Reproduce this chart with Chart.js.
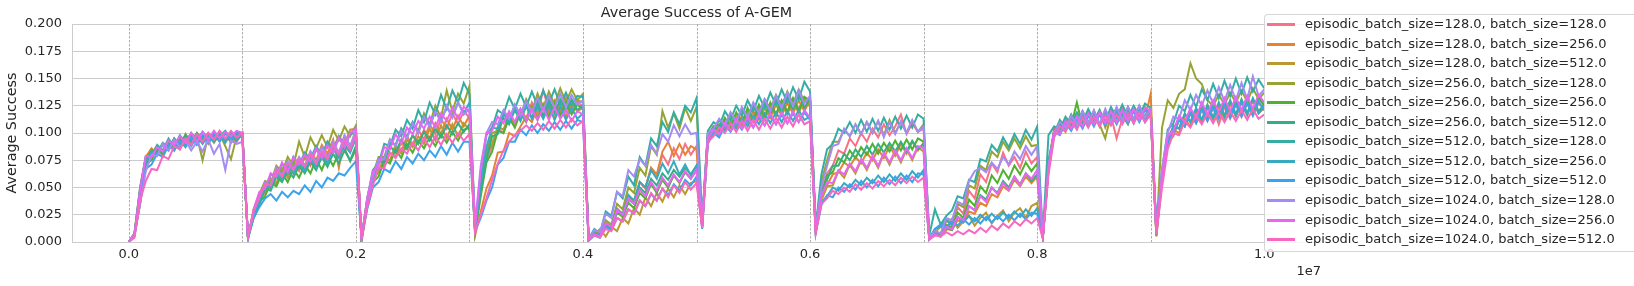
<!DOCTYPE html>
<html>
<head>
<meta charset="utf-8">
<script src="https://cdn.jsdelivr.net/npm/chart.js@4.4.1/dist/chart.umd.min.js"></script>
<style>
    html, body { margin: 0; padding: 0; background: #fff; overflow: hidden; }
    #wrap { position: relative; width: 1634px; height: 286px; }
    #chart { position: absolute; left: 0; top: 0; }
    #legend {
        position: absolute; left: 1264px; top: 14px; width: 420px; height: 238px;
        background: rgba(255, 255, 255, 0.8); border: 1px solid rgba(204, 204, 204, 0.8);
        border-radius: 4px; box-sizing: border-box;
        font-family: "DejaVu Sans"; font-size: 13px; color: #262626;
    }
    .item { position: absolute; left: 0; height: 16px; white-space: nowrap; }
    .swatch { position: absolute; left: 2px; top: 7px; width: 28px; height: 2.5px; }
    .label { position: absolute; left: 40px; top: 0; line-height: 16px; }
</style>
</head>
<body>
<div id="wrap">
    <canvas id="chart" width="1634" height="286"></canvas>
    <div id="legend"></div>
</div>
<script>
// Pasos de entrenamiento (eje x)
const steps = [
    0,
    50000, 100000, 150000, 200000, 250000, 300000, 350000, 400000, 450000, 500000, 550000, 600000, 650000, 700000, 750000, 800000, 850000, 900000, 950000, 1000000,
    1050000, 1100000, 1150000, 1200000, 1250000, 1300000, 1350000, 1400000, 1450000, 1500000, 1550000, 1600000, 1650000, 1700000, 1750000, 1800000, 1850000, 1900000, 1950000, 2000000,
    2050000, 2100000, 2150000, 2200000, 2250000, 2300000, 2350000, 2400000, 2450000, 2500000, 2550000, 2600000, 2650000, 2700000, 2750000, 2800000, 2850000, 2900000, 2950000, 3000000,
    3050000, 3100000, 3150000, 3200000, 3250000, 3300000, 3350000, 3400000, 3450000, 3500000, 3550000, 3600000, 3650000, 3700000, 3750000, 3800000, 3850000, 3900000, 3950000, 4000000,
    4050000, 4100000, 4150000, 4200000, 4250000, 4300000, 4350000, 4400000, 4450000, 4500000, 4550000, 4600000, 4650000, 4700000, 4750000, 4800000, 4850000, 4900000, 4950000, 5000000,
    5050000, 5100000, 5150000, 5200000, 5250000, 5300000, 5350000, 5400000, 5450000, 5500000, 5550000, 5600000, 5650000, 5700000, 5750000, 5800000, 5850000, 5900000, 5950000, 6000000,
    6050000, 6100000, 6150000, 6200000, 6250000, 6300000, 6350000, 6400000, 6450000, 6500000, 6550000, 6600000, 6650000, 6700000, 6750000, 6800000, 6850000, 6900000, 6950000, 7000000,
    7050000, 7100000, 7150000, 7200000, 7250000, 7300000, 7350000, 7400000, 7450000, 7500000, 7550000, 7600000, 7650000, 7700000, 7750000, 7800000, 7850000, 7900000, 7950000, 8000000,
    8050000, 8100000, 8150000, 8200000, 8250000, 8300000, 8350000, 8400000, 8450000, 8500000, 8550000, 8600000, 8650000, 8700000, 8750000, 8800000, 8850000, 8900000, 8950000, 9000000,
    9050000, 9100000, 9150000, 9200000, 9250000, 9300000, 9350000, 9400000, 9450000, 9500000, 9550000, 9600000, 9650000, 9700000, 9750000, 9800000, 9850000, 9900000, 9950000, 10000000
];

// Límites de cada tarea (líneas discontinuas)
const taskBoundaries = [0, 1000000, 2000000, 3000000, 4000000, 5000000, 6000000, 7000000, 8000000, 9000000, 10000000];
const xTicks = [0, 2000000, 4000000, 6000000, 8000000, 10000000];
const yTicks = [0, 0.025, 0.05, 0.075, 0.1, 0.125, 0.15, 0.175, 0.2];

const episodicSizes = [128, 128, 128, 256, 256, 256, 512, 512, 512, 1024, 1024, 1024];
const batchSizes = [128, 256, 512, 128, 256, 512, 128, 256, 512, 128, 256, 512];
const colors = ['#f77189', '#e68332', '#bb9832', '#97a431', '#50b131', '#34af84',
                '#36ada4', '#38aabf', '#3ba3ec', '#a48cf4', '#e866f4', '#f668c2'];

// Éxito medio por configuración (una fila por tarea)
const s128_128 = [0,
    0.006,0.045,0.072,0.08,0.086,0.079,0.09,0.093,0.085,0.095,0.098,0.09,0.097,0.093,0.1,0.094,0.101,0.096,0.092,0.1,
    0.005,0.027,0.04,0.045,0.058,0.052,0.066,0.059,0.072,0.065,0.079,0.07,0.085,0.077,0.09,0.082,0.096,0.087,0.083,0.101,
    0.004,0.036,0.06,0.064,0.078,0.074,0.088,0.083,0.097,0.089,0.103,0.094,0.108,0.099,0.113,0.104,0.118,0.108,0.12,0.114,
    0.01,0.048,0.076,0.088,0.104,0.1,0.115,0.109,0.122,0.113,0.128,0.117,0.139,0.121,0.13,0.119,0.133,0.122,0.129,0.124,
    0.003,0.009,0.006,0.018,0.014,0.031,0.025,0.043,0.037,0.055,0.049,0.068,0.061,0.08,0.071,0.086,0.076,0.09,0.08,0.088,
    0.018,0.098,0.106,0.1,0.111,0.104,0.115,0.108,0.119,0.111,0.123,0.114,0.126,0.117,0.129,0.12,0.131,0.122,0.133,0.128,
    0.012,0.045,0.063,0.07,0.084,0.081,0.095,0.088,0.1,0.092,0.104,0.096,0.108,0.098,0.106,0.117,0.099,0.109,0.101,0.104,
    0.004,0.01,0.006,0.02,0.015,0.032,0.026,0.047,0.04,0.062,0.055,0.072,0.064,0.082,0.07,0.078,0.068,0.083,0.072,0.078,
    0.005,0.072,0.104,0.1,0.112,0.104,0.116,0.107,0.119,0.108,0.12,0.11,0.116,0.095,0.113,0.121,0.109,0.122,0.112,0.12,
    0.006,0.058,0.097,0.104,0.113,0.106,0.118,0.109,0.121,0.111,0.123,0.108,0.124,0.113,0.126,0.115,0.127,0.116,0.128,0.121];

const s128_256 = [0,
    0.008,0.05,0.078,0.086,0.081,0.09,0.085,0.095,0.089,0.098,0.092,0.1,0.093,0.099,0.094,0.1,0.092,0.099,0.094,0.098,
    0.003,0.03,0.041,0.052,0.049,0.062,0.057,0.07,0.063,0.077,0.069,0.083,0.075,0.089,0.081,0.094,0.068,0.097,0.088,0.1,
    0.0,0.033,0.054,0.068,0.07,0.082,0.078,0.092,0.085,0.098,0.091,0.103,0.095,0.109,0.099,0.113,0.103,0.116,0.106,0.116,
    0.006,0.028,0.049,0.061,0.082,0.083,0.1,0.097,0.106,0.115,0.11,0.123,0.114,0.126,0.113,0.128,0.115,0.127,0.12,0.123,
    0.002,0.008,0.005,0.017,0.012,0.029,0.024,0.042,0.037,0.055,0.05,0.068,0.062,0.083,0.092,0.079,0.09,0.08,0.088,0.085,
    0.016,0.095,0.1,0.108,0.103,0.112,0.106,0.116,0.109,0.12,0.112,0.123,0.114,0.126,0.116,0.128,0.118,0.13,0.12,0.13,
    0.011,0.04,0.052,0.062,0.064,0.073,0.069,0.078,0.072,0.082,0.075,0.085,0.077,0.088,0.079,0.09,0.081,0.092,0.084,0.091,
    0.003,0.007,0.005,0.012,0.011,0.02,0.018,0.028,0.026,0.036,0.033,0.044,0.041,0.051,0.047,0.057,0.051,0.06,0.054,0.06,
    0.004,0.065,0.098,0.106,0.101,0.113,0.104,0.117,0.107,0.119,0.106,0.12,0.108,0.121,0.109,0.121,0.11,0.122,0.113,0.136,
    0.008,0.06,0.09,0.103,0.1,0.113,0.106,0.12,0.11,0.123,0.112,0.125,0.113,0.127,0.115,0.128,0.116,0.13,0.118,0.123];

const s128_512 = [0,
    0.007,0.047,0.078,0.081,0.088,0.08,0.091,0.086,0.096,0.088,0.098,0.092,0.097,0.09,0.099,0.093,0.1,0.091,0.099,0.099,
    0.004,0.026,0.041,0.046,0.057,0.054,0.068,0.06,0.074,0.068,0.077,0.072,0.087,0.078,0.092,0.086,0.097,0.09,0.103,0.104,
    0.003,0.035,0.058,0.064,0.078,0.075,0.089,0.081,0.094,0.087,0.097,0.09,0.104,0.093,0.107,0.095,0.108,0.097,0.109,0.103,
    0.012,0.05,0.081,0.09,0.106,0.103,0.118,0.107,0.122,0.113,0.125,0.114,0.127,0.118,0.129,0.117,0.131,0.119,0.13,0.128,
    0.002,0.007,0.012,0.005,0.014,0.01,0.022,0.017,0.031,0.025,0.041,0.033,0.045,0.037,0.049,0.041,0.052,0.044,0.054,0.056,
    0.014,0.094,0.103,0.098,0.11,0.103,0.115,0.106,0.119,0.11,0.122,0.112,0.125,0.115,0.128,0.117,0.13,0.118,0.131,0.124,
    0.01,0.038,0.051,0.052,0.065,0.059,0.071,0.063,0.075,0.066,0.078,0.068,0.081,0.071,0.083,0.073,0.085,0.075,0.087,0.083,
    0.003,0.009,0.014,0.011,0.021,0.013,0.019,0.024,0.015,0.022,0.027,0.017,0.024,0.029,0.019,0.027,0.031,0.022,0.033,0.036,
    0.004,0.068,0.102,0.099,0.111,0.104,0.114,0.106,0.118,0.108,0.121,0.105,0.119,0.109,0.123,0.11,0.121,0.111,0.124,0.117,
    0.005,0.055,0.091,0.097,0.112,0.106,0.118,0.11,0.124,0.112,0.126,0.115,0.129,0.117,0.131,0.119,0.133,0.12,0.134,0.127];

const s256_128 = [0,
    0.006,0.036,0.072,0.081,0.079,0.09,0.084,0.095,0.087,0.099,0.09,0.097,0.075,0.098,0.091,0.099,0.088,0.076,0.097,0.098,
    0.004,0.03,0.044,0.056,0.054,0.07,0.064,0.078,0.07,0.092,0.078,0.096,0.086,0.098,0.087,0.103,0.093,0.106,0.097,0.107,
    0.003,0.04,0.062,0.078,0.078,0.094,0.088,0.104,0.096,0.11,0.102,0.118,0.108,0.125,0.114,0.139,0.12,0.136,0.127,0.143,
    0.01,0.052,0.082,0.1,0.102,0.118,0.111,0.126,0.116,0.131,0.12,0.136,0.123,0.138,0.126,0.141,0.128,0.14,0.13,0.136,
    0.003,0.01,0.007,0.02,0.016,0.035,0.03,0.05,0.045,0.068,0.061,0.088,0.08,0.12,0.105,0.118,0.104,0.123,0.111,0.124,
    0.017,0.1,0.104,0.112,0.107,0.117,0.111,0.122,0.115,0.127,0.119,0.131,0.122,0.135,0.125,0.138,0.127,0.14,0.129,0.131,
    0.013,0.055,0.075,0.092,0.092,0.103,0.097,0.108,0.099,0.11,0.1,0.111,0.098,0.112,0.1,0.11,0.1,0.111,0.101,0.108,
    0.004,0.01,0.007,0.02,0.018,0.035,0.032,0.052,0.049,0.07,0.066,0.083,0.078,0.092,0.084,0.095,0.086,0.097,0.088,0.089,
    0.005,0.07,0.1,0.109,0.104,0.116,0.107,0.12,0.109,0.12,0.108,0.095,0.117,0.122,0.11,0.122,0.111,0.124,0.113,0.122,
    0.007,0.105,0.13,0.123,0.136,0.14,0.164,0.15,0.145,0.13,0.125,0.135,0.126,0.137,0.128,0.139,0.129,0.141,0.131,0.137];

const s256_256 = [0,
    0.007,0.035,0.072,0.075,0.085,0.081,0.092,0.084,0.095,0.089,0.097,0.09,0.098,0.091,0.099,0.093,0.1,0.092,0.099,0.097,
    0.003,0.024,0.037,0.042,0.054,0.051,0.063,0.055,0.067,0.059,0.071,0.063,0.076,0.066,0.079,0.07,0.082,0.086,0.074,0.085,
    0.002,0.034,0.055,0.06,0.075,0.072,0.085,0.077,0.09,0.082,0.093,0.086,0.096,0.088,0.099,0.091,0.101,0.093,0.103,0.105,
    0.008,0.042,0.073,0.083,0.102,0.1,0.114,0.105,0.119,0.11,0.123,0.112,0.125,0.115,0.127,0.116,0.128,0.117,0.126,0.122,
    0.002,0.007,0.005,0.016,0.013,0.027,0.023,0.036,0.031,0.045,0.04,0.053,0.045,0.057,0.05,0.061,0.054,0.064,0.058,0.066,
    0.015,0.097,0.106,0.102,0.114,0.106,0.119,0.109,0.123,0.112,0.126,0.115,0.128,0.117,0.13,0.119,0.132,0.12,0.133,0.13,
    0.011,0.045,0.061,0.064,0.077,0.073,0.084,0.077,0.087,0.08,0.09,0.081,0.091,0.083,0.093,0.084,0.094,0.085,0.095,0.092,
    0.003,0.008,0.006,0.016,0.013,0.027,0.022,0.039,0.033,0.051,0.045,0.061,0.054,0.066,0.058,0.07,0.062,0.073,0.065,0.072,
    0.004,0.068,0.103,0.1,0.112,0.107,0.128,0.106,0.118,0.108,0.12,0.109,0.121,0.11,0.116,0.108,0.122,0.111,0.123,0.116,
    0.006,0.062,0.096,0.101,0.114,0.108,0.12,0.112,0.125,0.114,0.127,0.116,0.128,0.117,0.13,0.118,0.131,0.119,0.132,0.125];

const s256_512 = [0,
    0.007,0.048,0.075,0.084,0.082,0.091,0.086,0.095,0.089,0.098,0.092,0.1,0.094,0.1,0.095,0.101,0.094,0.1,0.096,0.1,
    0.003,0.022,0.034,0.049,0.047,0.06,0.055,0.066,0.059,0.07,0.063,0.074,0.066,0.078,0.069,0.081,0.072,0.084,0.075,0.088,
    0.003,0.037,0.058,0.074,0.073,0.088,0.082,0.094,0.086,0.098,0.09,0.101,0.093,0.104,0.096,0.107,0.099,0.109,0.101,0.108,
    0.009,0.046,0.076,0.097,0.099,0.114,0.108,0.121,0.111,0.125,0.114,0.128,0.116,0.13,0.118,0.131,0.12,0.131,0.121,0.126,
    0.002,0.008,0.006,0.016,0.013,0.029,0.025,0.039,0.035,0.05,0.045,0.058,0.052,0.063,0.057,0.066,0.06,0.068,0.062,0.07,
    0.015,0.099,0.103,0.112,0.106,0.117,0.109,0.122,0.112,0.125,0.115,0.128,0.117,0.131,0.119,0.133,0.121,0.136,0.123,0.132,
    0.011,0.044,0.057,0.07,0.07,0.081,0.075,0.085,0.078,0.088,0.08,0.09,0.082,0.091,0.083,0.092,0.083,0.093,0.085,0.09,
    0.003,0.007,0.005,0.013,0.011,0.023,0.02,0.033,0.029,0.043,0.039,0.05,0.045,0.056,0.05,0.06,0.053,0.063,0.056,0.062,
    0.004,0.075,0.1,0.112,0.105,0.117,0.108,0.12,0.109,0.12,0.108,0.121,0.111,0.123,0.112,0.124,0.113,0.125,0.114,0.123,
    0.01,0.058,0.091,0.106,0.104,0.118,0.11,0.123,0.112,0.126,0.114,0.128,0.116,0.13,0.117,0.131,0.118,0.132,0.12,0.126];

const s512_128 = [0,
    0.008,0.05,0.079,0.079,0.089,0.084,0.095,0.087,0.098,0.091,0.1,0.094,0.101,0.095,0.1,0.097,0.102,0.094,0.101,0.1,
    0.004,0.028,0.045,0.048,0.062,0.06,0.072,0.063,0.078,0.071,0.082,0.076,0.088,0.079,0.092,0.083,0.097,0.087,0.099,0.1,
    0.003,0.04,0.066,0.072,0.09,0.088,0.103,0.097,0.112,0.104,0.121,0.11,0.128,0.117,0.135,0.122,0.139,0.128,0.146,0.136,
    0.014,0.062,0.098,0.105,0.121,0.117,0.133,0.122,0.136,0.124,0.138,0.125,0.139,0.127,0.14,0.126,0.137,0.125,0.134,0.133,
    0.003,0.012,0.008,0.028,0.024,0.046,0.04,0.06,0.052,0.078,0.07,0.095,0.088,0.11,0.101,0.119,0.108,0.125,0.119,0.132,
    0.02,0.102,0.11,0.106,0.12,0.112,0.125,0.116,0.13,0.12,0.134,0.123,0.137,0.126,0.14,0.128,0.142,0.131,0.147,0.138,
    0.014,0.062,0.085,0.09,0.104,0.1,0.11,0.1,0.112,0.101,0.113,0.102,0.114,0.103,0.115,0.104,0.116,0.105,0.117,0.113,
    0.006,0.03,0.016,0.024,0.029,0.042,0.04,0.057,0.055,0.076,0.074,0.089,0.083,0.096,0.087,0.099,0.09,0.103,0.094,0.106,
    0.006,0.098,0.106,0.103,0.115,0.108,0.119,0.11,0.122,0.112,0.121,0.11,0.124,0.114,0.126,0.115,0.125,0.116,0.127,0.123,
    0.012,0.065,0.103,0.109,0.125,0.12,0.135,0.124,0.14,0.13,0.145,0.132,0.148,0.134,0.15,0.136,0.151,0.138,0.149,0.141];

const s512_256 = [0,
    0.006,0.044,0.071,0.082,0.08,0.09,0.084,0.094,0.087,0.095,0.088,0.097,0.09,0.098,0.092,0.099,0.091,0.1,0.093,0.099,
    0.004,0.025,0.038,0.051,0.05,0.063,0.058,0.07,0.063,0.073,0.066,0.077,0.069,0.081,0.072,0.086,0.077,0.09,0.082,0.095,
    0.003,0.038,0.059,0.076,0.076,0.093,0.089,0.104,0.096,0.11,0.1,0.116,0.106,0.12,0.111,0.124,0.115,0.128,0.118,0.128,
    0.012,0.055,0.087,0.105,0.104,0.118,0.11,0.123,0.112,0.125,0.113,0.124,0.113,0.125,0.112,0.124,0.112,0.123,0.113,0.118,
    0.002,0.008,0.006,0.017,0.014,0.03,0.026,0.043,0.038,0.055,0.05,0.066,0.058,0.072,0.063,0.074,0.062,0.071,0.061,0.07,
    0.013,0.093,0.098,0.106,0.102,0.11,0.104,0.113,0.106,0.116,0.108,0.118,0.109,0.119,0.11,0.12,0.111,0.121,0.112,0.115,
    0.009,0.036,0.042,0.05,0.047,0.054,0.05,0.057,0.052,0.059,0.054,0.061,0.055,0.062,0.056,0.063,0.057,0.065,0.059,0.066,
    0.003,0.012,0.014,0.02,0.016,0.023,0.018,0.024,0.019,0.025,0.02,0.026,0.021,0.027,0.022,0.028,0.023,0.03,0.024,0.031,
    0.004,0.07,0.099,0.108,0.103,0.113,0.105,0.117,0.106,0.118,0.107,0.119,0.108,0.12,0.109,0.121,0.109,0.122,0.11,0.118,
    0.012,0.06,0.092,0.107,0.104,0.117,0.11,0.122,0.112,0.125,0.114,0.127,0.115,0.129,0.116,0.13,0.117,0.131,0.118,0.124];

const s512_512 = [0,
    0.005,0.04,0.067,0.071,0.081,0.078,0.089,0.084,0.093,0.087,0.096,0.089,0.098,0.091,0.099,0.092,0.1,0.093,0.1,0.098,
    0.005,0.022,0.032,0.04,0.044,0.038,0.046,0.041,0.047,0.044,0.052,0.046,0.056,0.05,0.059,0.056,0.063,0.061,0.068,0.074,
    0.003,0.03,0.05,0.055,0.067,0.064,0.074,0.067,0.078,0.072,0.081,0.075,0.084,0.078,0.088,0.08,0.091,0.083,0.092,0.092,
    0.01,0.022,0.038,0.05,0.071,0.077,0.092,0.092,0.103,0.098,0.107,0.1,0.108,0.102,0.11,0.103,0.111,0.104,0.112,0.11,
    0.001,0.006,0.004,0.014,0.011,0.022,0.019,0.03,0.026,0.038,0.033,0.044,0.038,0.049,0.043,0.053,0.047,0.057,0.052,0.06,
    0.012,0.09,0.1,0.096,0.107,0.101,0.11,0.103,0.113,0.105,0.115,0.107,0.116,0.108,0.117,0.109,0.118,0.11,0.119,0.112,
    0.008,0.034,0.043,0.041,0.05,0.046,0.053,0.048,0.056,0.05,0.057,0.051,0.059,0.053,0.06,0.054,0.061,0.055,0.063,0.062,
    0.003,0.012,0.016,0.013,0.019,0.015,0.021,0.016,0.022,0.017,0.023,0.018,0.024,0.019,0.025,0.02,0.026,0.021,0.027,0.026,
    0.004,0.066,0.101,0.098,0.109,0.102,0.113,0.104,0.116,0.106,0.117,0.107,0.118,0.108,0.119,0.109,0.12,0.11,0.121,0.117,
    0.013,0.057,0.093,0.099,0.112,0.106,0.118,0.109,0.122,0.111,0.124,0.113,0.126,0.114,0.127,0.115,0.128,0.116,0.129,0.121];

const s1024_128 = [0,
    0.006,0.035,0.065,0.08,0.079,0.09,0.084,0.094,0.087,0.093,0.084,0.092,0.083,0.094,0.081,0.09,0.066,0.093,0.09,0.092,
    0.004,0.028,0.041,0.054,0.052,0.068,0.061,0.074,0.067,0.078,0.07,0.083,0.073,0.087,0.077,0.092,0.082,0.098,0.088,0.103,
    0.003,0.038,0.06,0.076,0.076,0.094,0.088,0.102,0.095,0.109,0.1,0.115,0.106,0.12,0.11,0.125,0.114,0.128,0.117,0.122,
    0.016,0.07,0.1,0.11,0.108,0.121,0.113,0.126,0.116,0.129,0.119,0.132,0.121,0.134,0.123,0.136,0.124,0.135,0.126,0.13,
    0.003,0.011,0.009,0.026,0.022,0.046,0.042,0.066,0.06,0.076,0.07,0.089,0.081,0.099,0.092,0.107,0.097,0.108,0.099,0.1,
    0.018,0.1,0.104,0.113,0.107,0.119,0.11,0.124,0.114,0.128,0.118,0.131,0.12,0.134,0.123,0.137,0.125,0.139,0.127,0.134,
    0.012,0.05,0.07,0.088,0.09,0.104,0.097,0.108,0.099,0.11,0.1,0.111,0.096,0.11,0.099,0.111,0.1,0.112,0.101,0.106,
    0.004,0.01,0.008,0.022,0.02,0.037,0.034,0.056,0.065,0.068,0.064,0.073,0.067,0.078,0.071,0.083,0.076,0.088,0.08,0.088,
    0.005,0.07,0.1,0.11,0.105,0.116,0.107,0.12,0.109,0.121,0.108,0.122,0.11,0.124,0.112,0.124,0.113,0.125,0.114,0.122,
    0.009,0.068,0.1,0.115,0.113,0.13,0.121,0.135,0.125,0.139,0.127,0.142,0.129,0.144,0.13,0.146,0.131,0.152,0.134,0.14];

const s1024_256 = [0,
    0.007,0.048,0.079,0.078,0.087,0.083,0.093,0.089,0.097,0.091,0.1,0.092,0.101,0.094,0.102,0.095,0.101,0.097,0.102,0.1,
    0.004,0.03,0.046,0.049,0.063,0.06,0.073,0.064,0.078,0.071,0.08,0.074,0.086,0.077,0.089,0.082,0.096,0.087,0.1,0.104,
    0.003,0.04,0.065,0.07,0.087,0.085,0.099,0.09,0.105,0.099,0.111,0.104,0.115,0.105,0.118,0.111,0.123,0.113,0.124,0.12,
    0.014,0.066,0.1,0.102,0.115,0.109,0.12,0.11,0.122,0.111,0.122,0.112,0.123,0.112,0.124,0.113,0.121,0.111,0.12,0.117,
    0.002,0.007,0.005,0.017,0.014,0.029,0.025,0.04,0.035,0.048,0.042,0.055,0.047,0.059,0.052,0.062,0.055,0.065,0.058,0.066,
    0.014,0.095,0.103,0.099,0.109,0.102,0.113,0.104,0.115,0.105,0.117,0.107,0.118,0.108,0.119,0.109,0.12,0.11,0.121,0.114,
    0.01,0.042,0.055,0.054,0.066,0.062,0.072,0.065,0.076,0.068,0.079,0.07,0.082,0.073,0.084,0.075,0.086,0.077,0.088,0.086,
    0.003,0.007,0.005,0.014,0.012,0.023,0.02,0.033,0.029,0.042,0.037,0.05,0.044,0.054,0.048,0.06,0.052,0.063,0.058,0.066,
    0.004,0.067,0.102,0.099,0.111,0.104,0.115,0.106,0.118,0.108,0.119,0.109,0.12,0.11,0.121,0.111,0.122,0.112,0.123,0.12,
    0.007,0.06,0.097,0.102,0.116,0.11,0.123,0.114,0.128,0.117,0.13,0.119,0.132,0.12,0.133,0.121,0.134,0.122,0.135,0.128];

const s1024_512 = [0,
    0.004,0.038,0.056,0.067,0.066,0.079,0.076,0.088,0.085,0.095,0.089,0.099,0.092,0.1,0.094,0.102,0.095,0.102,0.096,0.1,
    0.005,0.028,0.041,0.053,0.052,0.066,0.06,0.072,0.066,0.076,0.069,0.08,0.072,0.083,0.076,0.089,0.08,0.093,0.085,0.098,
    0.003,0.032,0.052,0.068,0.068,0.082,0.077,0.086,0.081,0.091,0.084,0.095,0.087,0.097,0.089,0.099,0.091,0.1,0.093,0.099,
    0.009,0.025,0.04,0.057,0.072,0.084,0.092,0.098,0.102,0.107,0.102,0.109,0.103,0.111,0.104,0.112,0.105,0.113,0.107,0.111,
    0.002,0.006,0.004,0.012,0.01,0.022,0.019,0.03,0.026,0.038,0.033,0.045,0.038,0.049,0.041,0.052,0.045,0.055,0.048,0.054,
    0.013,0.092,0.097,0.105,0.1,0.109,0.101,0.111,0.102,0.112,0.103,0.113,0.104,0.114,0.105,0.115,0.106,0.117,0.108,0.111,
    0.008,0.035,0.04,0.047,0.044,0.05,0.046,0.053,0.048,0.054,0.049,0.056,0.051,0.057,0.052,0.059,0.054,0.06,0.055,0.059,
    0.002,0.006,0.005,0.009,0.006,0.01,0.007,0.011,0.008,0.013,0.009,0.015,0.011,0.017,0.013,0.019,0.015,0.021,0.017,0.022,
    0.003,0.062,0.096,0.106,0.102,0.111,0.103,0.114,0.105,0.115,0.106,0.116,0.107,0.117,0.108,0.118,0.109,0.119,0.11,0.117,
    0.008,0.05,0.085,0.1,0.098,0.111,0.105,0.116,0.108,0.118,0.109,0.119,0.11,0.12,0.111,0.121,0.112,0.122,0.113,0.117];

const series = [s128_128, s128_256, s128_512, s256_128, s256_256, s256_512,
                s512_128, s512_256, s512_512, s1024_128, s1024_256, s1024_512];

const labels = episodicSizes.map((e, i) =>
    `episodic_batch_size=${e.toFixed(1)}, batch_size=${batchSizes[i].toFixed(1)}`);

const textColor = '#262626';
const fontFamily = 'DejaVu Sans';

Chart.defaults.font.family = fontFamily;
Chart.defaults.color = textColor;

// Líneas verticales discontinuas, título y el "1e7" del eje
const extrasPlugin = {
    id: 'extras',
    beforeDatasetsDraw(chart) {
        const { ctx, chartArea, scales } = chart;
        ctx.save();
        ctx.strokeStyle = '#9a9a9a';
        ctx.lineWidth = 0.8;
        ctx.setLineDash([2.5, 1.5]);
        taskBoundaries.forEach(v => {
            const x = Math.round(scales.x.getPixelForValue(v)) + 0.5;
            ctx.beginPath();
            ctx.moveTo(x, chartArea.top);
            ctx.lineTo(x, chartArea.bottom);
            ctx.stroke();
        });
        ctx.restore();
    },
    afterDraw(chart) {
        const { ctx, chartArea } = chart;
        ctx.save();
        ctx.fillStyle = textColor;
        ctx.font = `14.3px "${fontFamily}"`;
        ctx.textAlign = 'center';
        ctx.textBaseline = 'middle';
        ctx.fillText('Average Success of A-GEM', (chartArea.left + chartArea.right) / 2, 13.5);
        ctx.font = `13px "${fontFamily}"`;
        ctx.textAlign = 'right';
        ctx.fillText('1e7', chartArea.right, 272);
        ctx.restore();
    }
};

new Chart(document.getElementById('chart'), {
    type: 'line',
    data: {
        datasets: series.map((vals, i) => ({
            label: labels[i],
            data: vals.map((v, j) => ({ x: steps[j], y: v })),
            borderColor: colors[i],
            backgroundColor: colors[i],
            borderWidth: 2,
            pointRadius: 0,
            tension: 0,
            order: series.length - i
        }))
    },
    options: {
        responsive: false,
        animation: false,
        devicePixelRatio: 1,
        layout: { padding: { left: 0, right: 313, top: 24, bottom: 0 } },
        plugins: {
            legend: { display: false },
            tooltip: { enabled: false },
            title: { display: false }
        },
        scales: {
            x: {
                type: 'linear',
                min: -500000,
                max: 10500000,
                afterBuildTicks: scale => { scale.ticks = xTicks.map(v => ({ value: v })); },
                afterFit: scale => { scale.height = 44; },
                grid: { display: false, drawTicks: false },
                border: { display: true, color: '#cccccc', width: 1 },
                ticks: {
                    padding: 5,
                    maxRotation: 0,
                    font: { size: 13 },
                    color: textColor,
                    callback: v => (v / 1e7).toFixed(1)
                }
            },
            y: {
                min: 0,
                max: 0.2,
                afterBuildTicks: scale => { scale.ticks = yTicks.map(v => ({ value: v })); },
                afterFit: scale => { scale.width = 72; },
                grid: { color: '#cccccc', lineWidth: 1, drawTicks: false },
                border: { display: true, color: '#cccccc', width: 1 },
                ticks: {
                    padding: 10,
                    font: { size: 13 },
                    color: textColor,
                    callback: v => v.toFixed(3)
                },
                title: {
                    display: true,
                    text: 'Average Success',
                    font: { size: 14.3 },
                    color: textColor,
                    padding: { top: 3.5, bottom: 0 }
                }
            }
        }
    },
    plugins: [extrasPlugin]
});

// Leyenda superpuesta, semitransparente como en el original
const legend = document.getElementById('legend');
labels.forEach((text, i) => {
    const item = document.createElement('div');
    item.className = 'item';
    item.style.top = Math.round(1 + i * 19.55) + 'px';
    const sw = document.createElement('div');
    sw.className = 'swatch';
    sw.style.background = colors[i];
    const lbl = document.createElement('span');
    lbl.className = 'label';
    lbl.textContent = text;
    item.appendChild(sw);
    item.appendChild(lbl);
    legend.appendChild(item);
});
</script>
</body>
</html>
